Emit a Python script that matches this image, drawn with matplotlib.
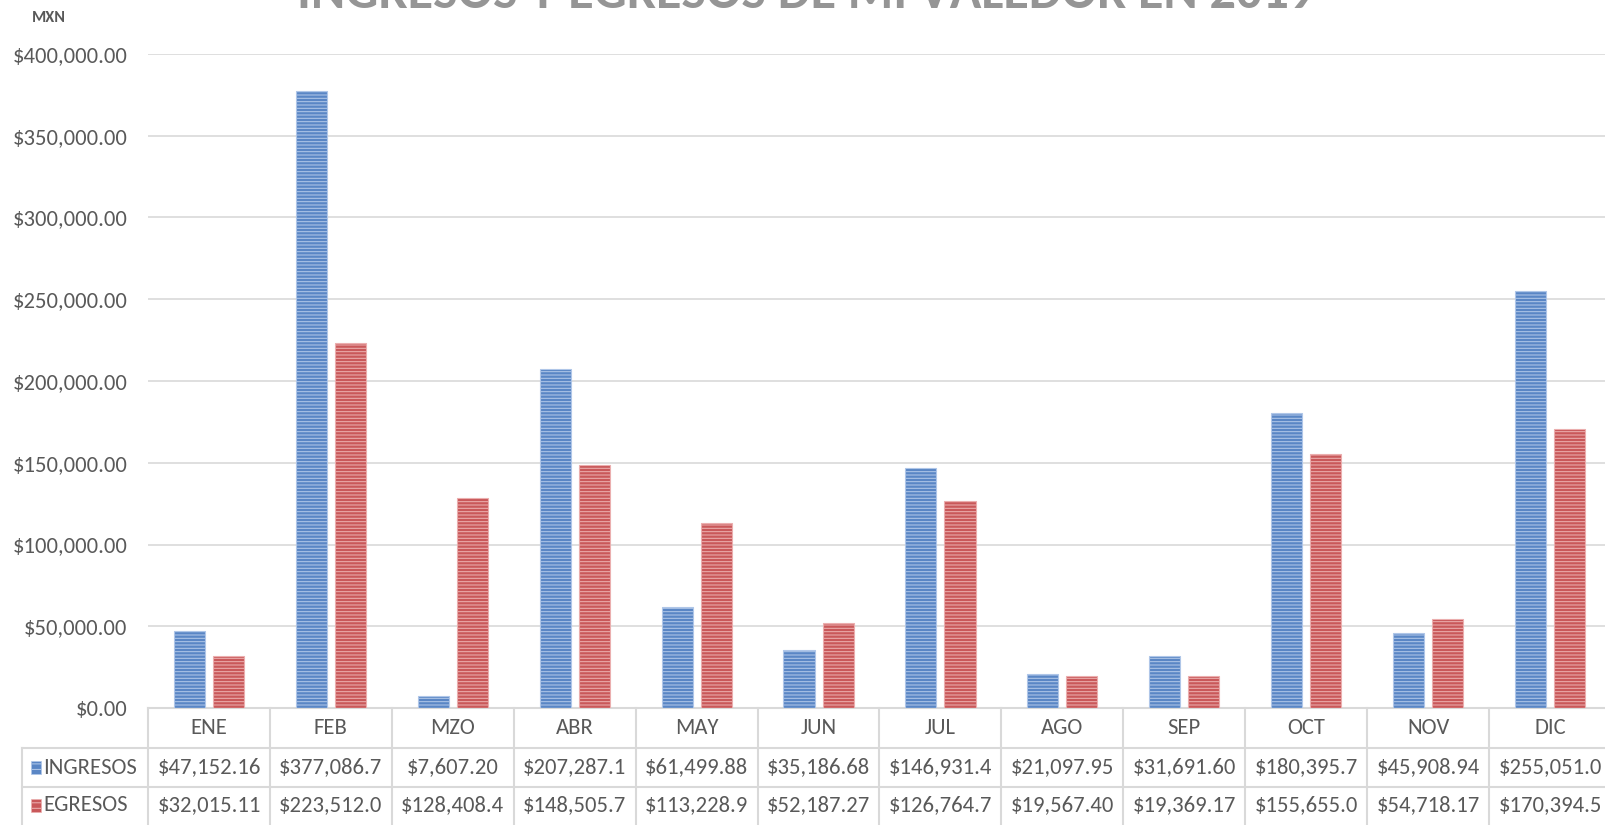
import numpy as np
import matplotlib
matplotlib.use("Agg")
import matplotlib.pyplot as plt
from matplotlib import font_manager
from matplotlib.patches import Rectangle
from matplotlib.ticker import FuncFormatter

# datos del grafico
meses = ["ENE", "FEB", "MZO", "ABR", "MAY", "JUN", "JUL", "AGO", "SEP", "OCT", "NOV", "DIC"]
ingresos = [47152.16, 377086.70, 7607.20, 207287.10, 61499.88, 35186.68,
            146931.40, 21097.95, 31691.60, 180395.70, 45908.94, 255051.00]
egresos = [32015.11, 223512.00, 128408.40, 148505.70, 113228.90, 52187.27,
           126764.70, 19567.40, 19369.17, 155655.00, 54718.17, 170394.50]
series = ["INGRESOS", "EGRESOS"]
titulo = "INGRESOS Y EGRESOS DE MI VALEDOR EN 2019"

W, H = 1606, 825
gris = "#595959"
borde = "#D9D9D9"

# buscar una fuente parecida a Calibri entre las instaladas
archivos = {f.fname.split("/")[-1]: f.fname for f in font_manager.fontManager.ttflist}


def buscar(opciones, familia, peso):
    for nombre in opciones:
        if nombre in archivos:
            return font_manager.FontProperties(fname=archivos[nombre])
    return font_manager.FontProperties(family=familia, weight=peso)


fp = buscar(["Carlito-Regular.ttf", "LiberationSansNarrow-Regular.ttf",
             "PTSansNarrow-Regular.ttf", "RobotoCondensed-Regular.ttf",
             "DejaVuSansCondensed.ttf"], "DejaVu Sans", "normal")
fpb = buscar(["Carlito-Bold.ttf", "LiberationSansNarrow-Bold.ttf",
              "PTSansNarrow-Bold.ttf", "RobotoCondensed-Bold.ttf",
              "DejaVuSansCondensed-Bold.ttf"], "DejaVu Sans", "bold")
plt.rcParams["hatch.linewidth"] = 0.75


def fmt_moneda(v):
    # Excel recorta el texto cuando no cabe en la celda
    return ("$" + format(v, ",.2f"))[:10]


fig = plt.figure(figsize=(W / 100, H / 100), dpi=100)
rend = fig.canvas.get_renderer()


def ajustar(texto, ancho_px, props):
    # tamaño de letra para que el texto mida ancho_px
    t = fig.text(0.5, 0.5, texto, fontproperties=props)
    t.set_fontsize(20)
    w = t.get_window_extent(rend).width
    t.remove()
    return 20 * ancho_px / w


fs = ajustar("$400,000.00", 115, fp)

ax = fig.add_axes([148 / W, (H - 708) / H, 1463 / W, 654 / H])

x = np.arange(len(meses))
ancho = 0.255
desp = 0.16
colores = [("#5A86C5", "#AFC6E8"), ("#C9585A", "#EBAEAE")]

for i, vals in enumerate([ingresos, egresos]):
    cara, raya = colores[i]
    ax.bar(x + (desp if i else -desp), vals, width=ancho, color=cara,
           edgecolor=raya, hatch="-----", linewidth=0.8, zorder=3)

ax.set_xlim(-0.5, len(meses) - 0.5)
ax.set_ylim(0, 400000)
ax.set_yticks(np.arange(0, 400001, 50000))
ax.yaxis.set_major_formatter(FuncFormatter(lambda v, p: "$" + format(v, ",.2f")))
ax.tick_params(axis="y", length=0, pad=15, labelcolor=gris)
for lbl in ax.get_yticklabels():
    lbl.set_fontproperties(fp)
    lbl.set_fontsize(fs)
ax.set_xticks([])
ax.grid(axis="y", color=borde, linewidth=1.2, zorder=0)
for s in ["top", "right", "left"]:
    ax.spines[s].set_visible(False)
ax.spines["bottom"].set_color(borde)
ax.spines["bottom"].set_linewidth(1.5)

# tabla de datos debajo del grafico
tr = ax.get_xaxis_transform()
alto = 654.0
y_filas = [0, -40 / alto, -79 / alto, -115 / alto]
x_lbl = (22.5 - 148) / 1463  # borde izquierdo de la columna de leyenda

for k in range(len(meses) + 1):
    ax.plot([k - 0.5, k - 0.5], [y_filas[0], -125 / alto], transform=tr,
            color=borde, lw=1.5, clip_on=False)
for yy in y_filas[1:3]:
    ax.plot([x_lbl, 1.0], [yy, yy], transform=ax.transAxes, color=borde,
            lw=1.5, clip_on=False)
ax.plot([x_lbl, x_lbl], [y_filas[1], -125 / alto], transform=ax.transAxes,
        color=borde, lw=1.5, clip_on=False)


def celda(xx, yy, s, trans, ha="center"):
    t = ax.text(xx, yy, s, transform=trans, ha=ha, va="center",
                color=gris, clip_on=False)
    t.set_fontproperties(fp)
    t.set_fontsize(fs)


for k, m in enumerate(meses):
    celda(k, (y_filas[0] + y_filas[1]) / 2, m, tr)

for i, (nombre, vals) in enumerate(zip(series, [ingresos, egresos])):
    yc = (y_filas[i + 1] + y_filas[i + 2]) / 2
    for k, v in enumerate(vals):
        celda(k, yc, fmt_moneda(v), tr)
    cara, raya = colores[i]
    ax.add_patch(Rectangle(((31 - 148) / 1463, yc - 6.5 / alto), 10 / 1463, 13 / alto,
                           transform=ax.transAxes, facecolor=cara, edgecolor=raya,
                           hatch="---", linewidth=0.5, clip_on=False))
    celda((43 - 148) / 1463, yc, nombre, ax.transAxes, ha="left")

# titulo (cortado arriba como en la captura) y unidad
fs_tit = ajustar(titulo, 1021, fpb)
t = fig.text(806 / W, 1 - 8 / H, titulo, ha="center", va="baseline", color="#959595")
t.set_fontproperties(fpb)
t.set_fontsize(fs_tit)

t = fig.text(49 / W, 1 - 18 / H, "MXN", ha="center", va="center", color=gris)
t.set_fontproperties(fpb)
t.set_fontsize(fs * 0.72)

fig.savefig("out.png", dpi=100)
